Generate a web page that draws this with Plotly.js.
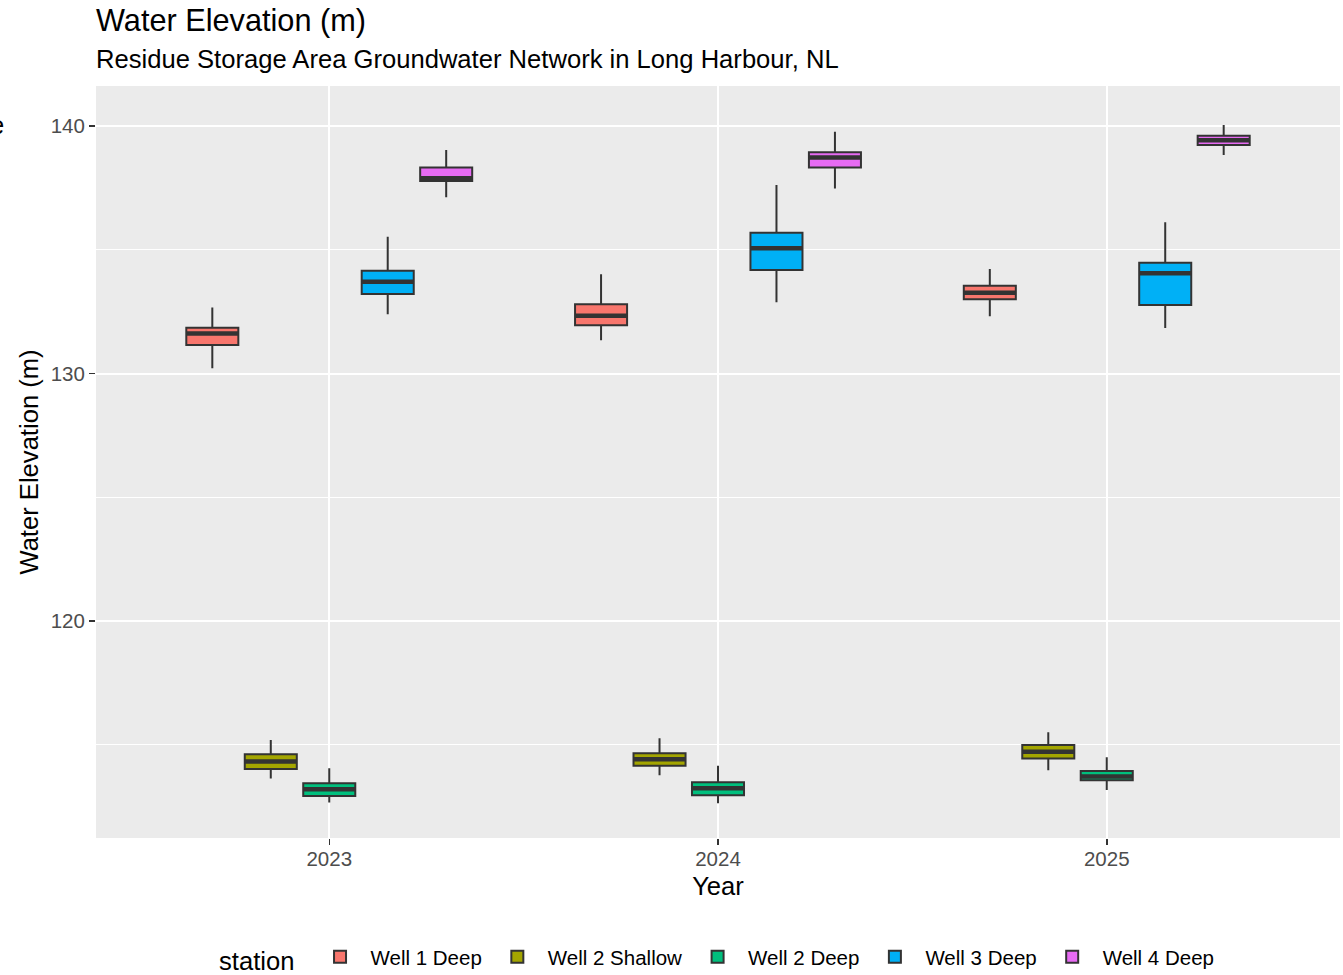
<!DOCTYPE html>
<html>
<head>
<meta charset="utf-8">
<script src="https://cdn.plot.ly/plotly-3.0.1.min.js"></script>
<style>html,body{margin:0;padding:0;background:#fff;}#chart{width:1343px;height:975px;}</style>
</head>
<body>
<div id="chart"></div>
<script>
// ---- data ----
const years = ["2023", "2024", "2025"];
const stations = ["Well 1 Deep", "Well 2 Shallow", "Well 2 Deep", "Well 3 Deep", "Well 4 Deep"];
const stationColors = ["#F8766D", "#A3A500", "#00BF7D", "#00B0F6", "#E76BF3"];

// one row per station, one value per year
const lowerWhisker = [
  [130.21, 131.35, 132.32],
  [113.63, 113.77, 113.97],
  [112.66, 112.63, 113.17],
  [132.40, 132.88, 131.84],
  [137.12, 137.48, 138.83]
];
const q1Values = [
  [131.15, 131.95, 133.00],
  [114.02, 114.15, 114.44],
  [112.93, 112.96, 113.56],
  [133.21, 134.18, 132.77],
  [137.78, 138.33, 139.24]
];
const medianValues = [
  [131.62, 132.34, 133.26],
  [114.32, 114.41, 114.72],
  [113.20, 113.24, 113.72],
  [133.71, 135.06, 134.05],
  [137.89, 138.73, 139.43]
];
const q3Values = [
  [131.85, 132.80, 133.55],
  [114.61, 114.65, 114.99],
  [113.44, 113.48, 113.94],
  [134.15, 135.69, 134.48],
  [138.33, 138.94, 139.61]
];
const upperWhisker = [
  [132.67, 134.01, 134.22],
  [115.19, 115.26, 115.50],
  [114.05, 114.15, 114.49],
  [135.53, 137.62, 136.11],
  [139.03, 139.77, 140.04]
];
const yTickValues = [120, 130, 140];
const yMinorValues = [115, 125, 135];

// ---- traces ----
const boxTraces = stations.map((name, i) => ({
  type: "box",
  name: name,
  x: years,
  q1: q1Values[i],
  median: medianValues[i],
  q3: q3Values[i],
  lowerfence: lowerWhisker[i],
  upperfence: upperWhisker[i],
  fillcolor: stationColors[i],
  line: { color: "#333333", width: 2 },
  whiskerwidth: 0,
  boxpoints: false,
  offsetgroup: name,
  alignmentgroup: "all",
  hoverinfo: "skip"
}));
// thicker median bars (ggplot draws the median line heavier)
const medianTraces = stations.map((name, i) => ({
  type: "box",
  name: name,
  x: years,
  q1: medianValues[i],
  median: medianValues[i],
  q3: medianValues[i],
  lowerfence: medianValues[i],
  upperfence: medianValues[i],
  fillcolor: "rgba(0,0,0,0)",
  line: { color: "#333333", width: 4.5 },
  whiskerwidth: 0,
  boxpoints: false,
  offsetgroup: name,
  alignmentgroup: "all",
  showlegend: false,
  hoverinfo: "skip"
}));

const FONT = "Liberation Sans, Arial, Helvetica, sans-serif";

const layout = {
  width: 1343,
  height: 975,
  paper_bgcolor: "#FFFFFF",
  plot_bgcolor: "#EBEBEB",
  font: { family: FONT, color: "#000000" },
  margin: { l: 96, r: 3, t: 86, b: 137, pad: 0 },
  boxmode: "group",
  boxgap: 0.248,
  boxgroupgap: 0.11,
  showlegend: true,
  title: {
    text: "Water Elevation (m)",
    font: { family: FONT, size: 30.7, color: "#000000" },
    x: 96 / 1343,
    xanchor: "left",
    xref: "container",
    y: 1 - 20 / 975,
    yanchor: "middle",
    yref: "container"
  },
  annotations: [
    {
      text: "Residue Storage Area Groundwater Network in Long Harbour, NL",
      xref: "paper", yref: "paper",
      x: -2 / 1244, y: 1 + (86 - 59) / 752,
      xanchor: "left", yanchor: "middle",
      showarrow: false,
      font: { family: FONT, size: 25.6, color: "#000000" }
    },
    {
      text: "e",
      xref: "paper", yref: "paper",
      x: -0.0795, y: (838 - 125) / 752,
      xanchor: "center", yanchor: "middle",
      showarrow: false,
      font: { family: FONT, size: 25.6, color: "#000000" }
    }
  ],
  xaxis: {
    type: "category",
    range: [-0.6, 2.6],
    showgrid: true,
    gridcolor: "#FFFFFF",
    gridwidth: 2,
    zeroline: false,
    showline: false,
    ticks: "outside",
    ticklen: 6,
    tickwidth: 1.5,
    tickcolor: "#333333",
    ticklabelstandoff: -4,
    tickfont: { family: FONT, size: 20.5, color: "#4D4D4D" },
    title: { text: "Year", font: { family: FONT, size: 25.6, color: "#000000" }, standoff: 8 },
    automargin: false,
    fixedrange: true
  },
  yaxis: {
    range: [111.23, 141.62],
    tickvals: yTickValues,
    ticktext: yTickValues.map(String),
    showgrid: true,
    gridcolor: "#FFFFFF",
    gridwidth: 2,
    minor: { tickvals: yMinorValues, showgrid: true, gridcolor: "#FFFFFF", gridwidth: 1, ticks: "" },
    zeroline: false,
    showline: false,
    ticks: "outside",
    ticklen: 6,
    tickwidth: 1.5,
    tickcolor: "#333333",
    tickfont: { family: FONT, size: 20.5, color: "#4D4D4D" },
    title: { text: "Water Elevation (m)", font: { family: FONT, size: 25.6, color: "#000000" }, standoff: 4 },
    automargin: false,
    fixedrange: true
  },
  legend: {
    orientation: "h",
    x: 0.5, xanchor: "center", xref: "paper",
    y: 1 - 959 / 975, yanchor: "middle", yref: "container",
    bgcolor: "rgba(0,0,0,0)",
    font: { family: FONT, size: 20.5, color: "#000000" },
    title: { text: "station ", side: "left", font: { family: FONT, size: 25.6, color: "#000000" } },
    traceorder: "normal",
    itemwidth: 51
  }
};

Plotly.newPlot("chart", boxTraces.concat(medianTraces), layout, { displayModeBar: false, staticPlot: true });
</script>
</body>
</html>
